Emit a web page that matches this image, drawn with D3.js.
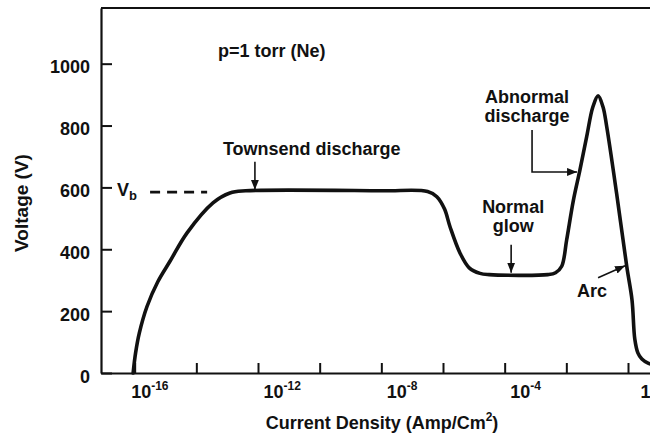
<!DOCTYPE html>
<html>
<head>
<meta charset="utf-8">
<script src="https://cdn.jsdelivr.net/npm/d3@7"></script>
<style>
  html, body { margin: 0; padding: 0; background: #fff; }
  svg { display: block; }
  text { font-family: "Liberation Sans", Arial, Helvetica, sans-serif; font-weight: bold; fill: #111; }
</style>
</head>
<body>
<svg id="chart" width="650" height="437"></svg>
<script>
// Glow-discharge V–J characteristic of neon at 1 torr.
// Current density as log10(J / A·cm⁻²), voltage in volts.
const logJ = [
  -16.05, -15.97, -15.85, -15.60, -15.25, -14.85, -14.30, -13.46, -12.91, -12.40, -8.00, -6.50,
  -6.20, -5.95, -5.77, -5.45, -5.15, -4.80, -4.50, -2.60, -2.35, -2.15,
  -1.99, -1.77, -1.56, -1.34, -1.14, -0.97, -0.81, -0.69, -0.37, -0.04,
  0.13, 0.22, 0.32, 0.45, 0.65, 0.90
];
const voltage = [
  0, 65, 129, 215, 295, 362, 453, 550, 582, 589, 589, 587,
  570, 530, 472, 388, 340, 322, 318, 318, 324, 345,
  430, 559, 656, 764, 860, 896, 860, 796, 581, 344,
  236, 110, 65, 45, 32, 25
];

// Axis ticks
const voltTicks = [0, 200, 400, 600, 800, 1000];
const decadeTicks = [-16, -14, -12, -10, -8, -6, -4, -2, 0];
const labelledDecades = [-16, -12, -8, -4, 0];

// Breakdown voltage marker and text annotations
const breakdownV = 588;
const breakdownSpan = [-15.5, -13.65];
const pressureNote = "p=1 torr (Ne)";
const regionNames = ["Townsend discharge", "Normal glow", "Abnormal discharge", "Arc"];
const regionAt = [[-12.1, 589], [-3.79, 318], [-1.62, 650], [-0.03, 350]];

const svg = d3.select("#chart");
const L = 101, T = 8, B = 373, R = 650;

const x = d3.scaleLog()
  .domain([Math.pow(10, -17.092), Math.pow(10, 0.7135)])
  .range([L, R]);
const y = d3.scaleLinear().domain([0, 1180]).range([B, T]);

const ink = "#111";

// Frame: top border line
svg.append("line")
  .attr("x1", L).attr("x2", R).attr("y1", T).attr("y2", T)
  .attr("stroke", ink).attr("stroke-width", 2.2);

// Y axis
const yAxis = svg.append("g")
  .attr("transform", `translate(${L},0)`)
  .call(d3.axisLeft(y).tickValues(voltTicks).tickFormat(d3.format("d"))
    .tickSizeInner(-11).tickSizeOuter(0).tickPadding(11));
yAxis.attr("font-family", null);
yAxis.select(".domain").attr("stroke", ink).attr("stroke-width", 2.2);
yAxis.selectAll(".tick line").attr("stroke", ink).attr("stroke-width", 2);
yAxis.selectAll(".tick text")
  .attr("font-size", 18).attr("dy", "0.5em").attr("fill", ink);

// X axis (log, every second decade)
const xAxis = svg.append("g")
  .attr("transform", `translate(0,${B})`)
  .call(d3.axisBottom(x)
    .tickValues(decadeTicks.map(d => Math.pow(10, d)))
    .tickSizeInner(-10).tickSizeOuter(0).tickFormat(() => ""));
xAxis.attr("font-family", null);
xAxis.select(".domain").attr("stroke", ink).attr("stroke-width", 2.2);
xAxis.selectAll(".tick line").attr("stroke", ink).attr("stroke-width", 2);
xAxis.selectAll(".tick").each(function(v) {
  const e = Math.round(Math.log10(v));
  if (!labelledDecades.includes(e)) return;
  const t = d3.select(this).select("text")
    .attr("y", 25).attr("dy", null).attr("x", e === -16 ? -4 : 5)
    .attr("text-anchor", "start").attr("font-size", 18).attr("fill", ink);
  if (e === 0) {
    t.attr("x", 12).text("1");
  } else {
    t.append("tspan").text("10");
    t.append("tspan").attr("font-size", 12).attr("dy", -8).text(String(e));
  }
});

// Axis titles
svg.append("text")
  .attr("x", 382).attr("y", 429).attr("text-anchor", "middle").attr("font-size", 18)
  .call(t => {
    t.append("tspan").text("Current Density (Amp/Cm");
    t.append("tspan").attr("font-size", 12).attr("dy", -8).text("2");
    t.append("tspan").attr("dy", 8).text(")");
  });
svg.append("text")
  .attr("transform", "translate(28,203) rotate(-90)")
  .attr("text-anchor", "middle").attr("font-size", 19)
  .text("Voltage (V)");

// Breakdown voltage: dashed guide and label
svg.append("line")
  .attr("x1", x(Math.pow(10, breakdownSpan[0]))).attr("x2", x(Math.pow(10, breakdownSpan[1])))
  .attr("y1", y(breakdownV) + 1).attr("y2", y(breakdownV) + 1)
  .attr("stroke", ink).attr("stroke-width", 2.6).attr("stroke-dasharray", "10 7");
svg.append("text")
  .attr("x", 117).attr("y", y(breakdownV) + 5).attr("font-size", 18)
  .call(t => {
    t.append("tspan").text("V");
    t.append("tspan").attr("font-size", 13).attr("dy", 4).text("b");
  });

// Characteristic curve
const line = d3.line()
  .x((d, i) => x(Math.pow(10, logJ[i])))
  .y(d => y(d))
  .curve(d3.curveCatmullRom.alpha(0.5));
svg.append("path")
  .datum(voltage)
  .attr("d", line)
  .attr("fill", "none").attr("stroke", ink)
  .attr("stroke-width", 3.6).attr("stroke-linejoin", "round").attr("stroke-linecap", "round");

// Arrowhead
svg.append("defs").append("marker")
  .attr("id", "head").attr("markerUnits", "userSpaceOnUse")
  .attr("markerWidth", 12).attr("markerHeight", 10)
  .attr("refX", 10).attr("refY", 4).attr("orient", "auto")
  .append("path").attr("d", "M0,0 L10,4 L0,8 Z").attr("fill", ink);

function arrow(points) {
  svg.append("path")
    .attr("d", d3.line()(points))
    .attr("fill", "none").attr("stroke", ink).attr("stroke-width", 1.6)
    .attr("marker-end", "url(#head)");
}
const tip = i => [x(Math.pow(10, regionAt[i][0])), y(regionAt[i][1])];

// Two-line centred label
function twoLine(cx, baseline, words, gap) {
  const t = svg.append("text").attr("text-anchor", "middle").attr("font-size", 18)
    .attr("x", cx).attr("y", baseline);
  t.append("tspan").attr("x", cx).text(words[0]);
  t.append("tspan").attr("x", cx).attr("dy", gap).text(words[1]);
}

// Pressure note
svg.append("text").attr("x", 218).attr("y", 57).attr("font-size", 18).text(pressureNote);

// Townsend discharge
{
  const [tx, ty] = tip(0);
  arrow([[tx, ty - 29], [tx, ty - 1]]);
  svg.append("text").attr("x", tx - 32).attr("y", ty - 36).attr("font-size", 18).text(regionNames[0]);
}
// Normal glow
{
  const [tx, ty] = tip(1);
  arrow([[tx, ty - 30], [tx, ty - 2]]);
  twoLine(tx + 2, ty - 62, regionNames[1].split(" "), 19);
}
// Abnormal discharge
{
  const [tx, ty] = tip(2);
  arrow([[tx - 46, ty - 42], [tx - 46, ty], [tx - 1, ty]]);
  twoLine(tx - 51, ty - 69, regionNames[2].split(" "), 19);
}
// Arc
{
  const [tx, ty] = tip(3);
  arrow([[tx - 29, ty + 13], [tx - 2, ty + 1]]);
  svg.append("text").attr("x", tx - 50).attr("y", ty + 32).attr("font-size", 18).text(regionNames[3]);
}
</script>
</body>
</html>
